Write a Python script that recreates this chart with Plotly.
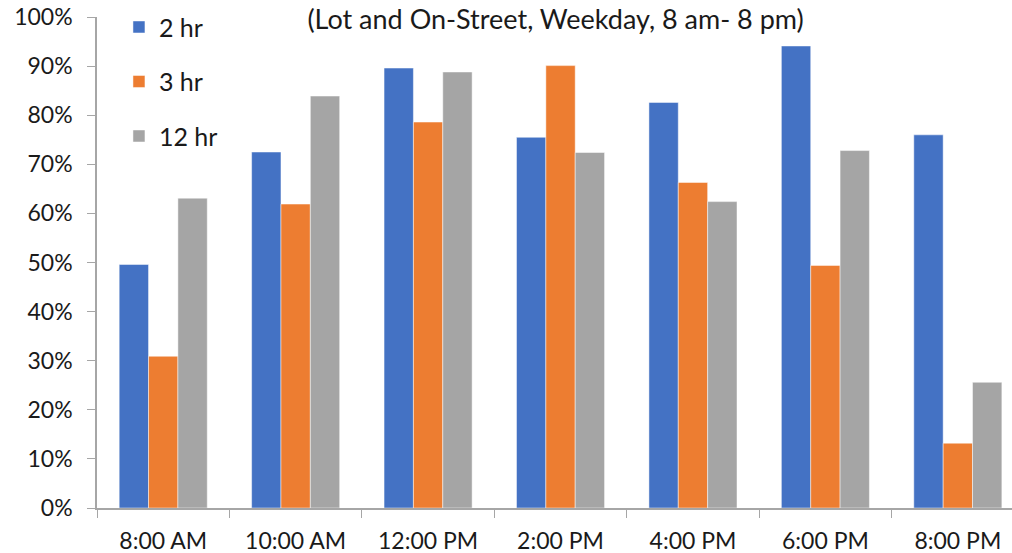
import plotly.graph_objects as go

categories = ["8:00 AM", "10:00 AM", "12:00 PM", "2:00 PM", "4:00 PM", "6:00 PM", "8:00 PM"]
series_names = ["2 hr", "3 hr", "12 hr"]
two_hr = [49.6, 72.5, 89.6, 75.5, 82.6, 94.1, 76.0]
three_hr = [30.9, 61.9, 78.6, 90.1, 66.3, 49.4, 13.2]
twelve_hr = [63.1, 83.9, 88.8, 72.4, 62.4, 72.8, 25.6]
colors = ["#4472C4", "#ED7D31", "#A5A5A5"]
title_text = "(Lot and On-Street, Weekday, 8 am- 8 pm)"

FONT = "Lato"
axis_col = "#A6A6A6"

fig = go.Figure()
for i, (name, vals) in enumerate(zip(series_names, [two_hr, three_hr, twelve_hr])):
    fig.add_trace(go.Bar(
        x=categories, y=vals, name=name, legendgroup=name,
        marker=dict(color=colors[i], line=dict(color="rgba(255,255,255,0.6)", width=0.8)),
    ))

fig.update_layout(
    width=1012, height=553,
    margin=dict(l=97, r=0, t=17, b=45),
    paper_bgcolor="white", plot_bgcolor="white",
    barmode="group", bargap=0.335, bargroupgap=0,
    font=dict(family=FONT, size=23, color="#1a1a1a"),
    title=dict(text=title_text, x=0.549, xanchor="center", y=1 - 20 / 553, yanchor="middle",
               font=dict(family=FONT, size=27, color="#1a1a1a")),
    legend=dict(x=0.024, y=1.026, xanchor="left", yanchor="top", tracegroupgap=19,
                font=dict(family=FONT, size=25), bgcolor="rgba(0,0,0,0)", itemwidth=30),
    xaxis=dict(type="category", range=[-0.5, 6.409], tickson="boundaries", ticks="outside",
               ticklen=8, tickcolor=axis_col, showline=True, linecolor=axis_col, linewidth=1.5,
               showgrid=False, ticklabelstandoff=12),
    yaxis=dict(range=[0, 100], dtick=10, ticksuffix="%", ticks="outside", ticklen=8,
               tickcolor=axis_col, showline=True, linecolor=axis_col, linewidth=1.5,
               showgrid=False, zeroline=False, ticklabelstandoff=10),
)

fig.write_html("out.html")
